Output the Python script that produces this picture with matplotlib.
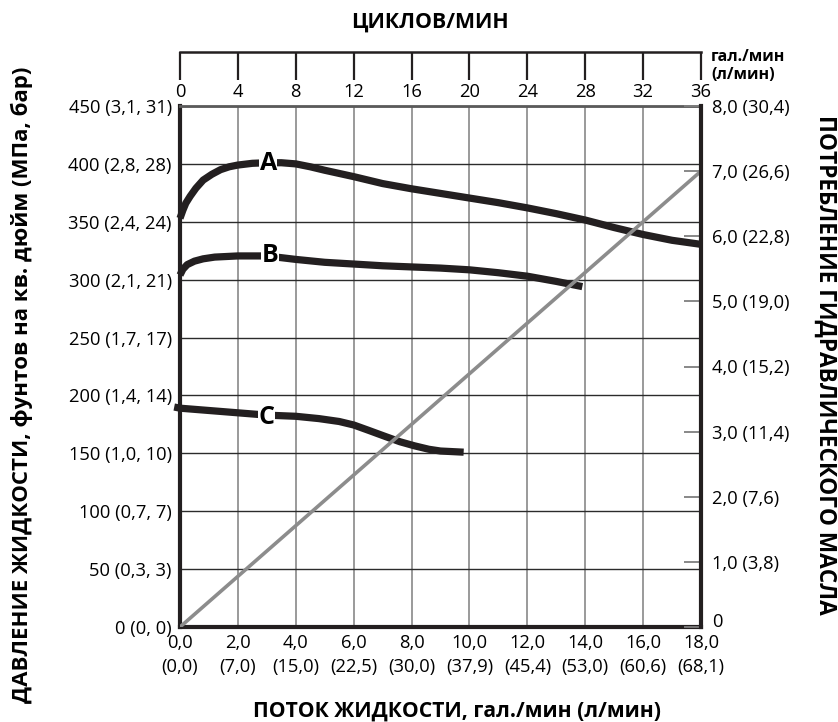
import numpy as np
import matplotlib
matplotlib.use("Agg")
import matplotlib.pyplot as plt
from matplotlib.transforms import ScaledTranslation

plt.rcParams['font.family'] = ['Open Sans', 'DejaVu Sans']

# fluid flow, gal/min, and pressure, psi
flow_a = [0, 0.1, 0.2, 0.35, 0.55, 0.8, 1.1, 1.4, 1.7, 2.0, 2.5, 3.0, 3.5, 4.0, 4.5, 5.0, 6.0, 7.0,
          8.0, 9.0, 10.0, 11.0, 12.0, 13.0, 14.0, 15.0, 16.0, 17.0, 18.0]
psi_a = [353, 360, 366, 372, 379, 386, 391, 395, 397.5, 399, 400.5, 401, 401, 400, 397.5, 394.5, 389, 383,
         378.5, 374.5, 370.5, 366.5, 362, 357, 351.5, 345, 339, 334, 330.5]

flow_b = [0, 0.1, 0.25, 0.5, 0.8, 1.2, 2.0, 3.0, 3.5, 4.0, 5.0, 6.0, 7.0, 8.0, 9.0, 10.0, 11.0, 12.0,
          13.0, 13.9]
psi_b = [304, 309, 313, 316, 318, 319.5, 320.5, 320.5, 319, 317.5, 315, 313.5, 312, 311, 310, 308.5, 306, 303,
         298.5, 294]

flow_c = [-0.2, 0, 1.0, 2.0, 3.0, 4.0, 4.8, 5.5, 6.0, 6.5, 7.1, 7.6, 8.1, 8.6, 9.0, 9.8]
psi_c = [190, 189, 187, 185, 183, 182, 180, 177.5, 174.5, 170, 164.5, 160, 156.5, 153.5, 152, 151]

# hydraulic oil consumption, gal/min
flow_oil = [0, 18]
oil = [0, 7.0]

curve_labels = ["A", "B", "C"]
label_pos = [(3.05, 400), (3.1, 321), (3.0, 181)]

flow_ticks = [0, 2, 4, 6, 8, 10, 12, 14, 16, 18]
flow_labels = ["0,0\n(0,0)", "2,0\n(7,0)", "4,0\n(15,0)", "6,0\n(22,5)", "8,0\n(30,0)",
               "10,0\n(37,9)", "12,0\n(45,4)", "14,0\n(53,0)", "16,0\n(60,6)", "18,0\n(68,1)"]
psi_ticks = [0, 50, 100, 150, 200, 250, 300, 350, 400, 450]
psi_labels = ["0 (0, 0)", "50 (0,3, 3)", "100 (0,7, 7)", "150 (1,0, 10)", "200 (1,4, 14)",
              "250 (1,7, 17)", "300 (2,1, 21)", "350 (2,4, 24)", "400 (2,8, 28)", "450 (3,1, 31)"]
oil_ticks = [0, 1, 2, 3, 4, 5, 6, 7, 8]
oil_labels = ["0", "1,0 (3,8)", "2,0 (7,6)", "3,0 (11,4)", "4,0 (15,2)", "5,0 (19,0)",
              "6,0 (22,8)", "7,0 (26,6)", "8,0 (30,4)"]
cycle_ticks = [0, 4, 8, 12, 16, 20, 24, 28, 32, 36]

W, H = 838, 722
dark = "#231f20"
fs = 13.2

fig = plt.figure(figsize=(W / 100, H / 100), dpi=100)
x0, x1, y0, y1 = 180, 701, 106, 627
ax = fig.add_axes([x0 / W, 1 - y1 / H, (x1 - x0) / W, (y1 - y0) / H])

ax.set_xlim(0, 18)
ax.set_ylim(0, 450)
ax.set_axisbelow(True)
ax.set_xticks(flow_ticks)
ax.set_xticklabels(flow_labels, linespacing=1.45)
ax.set_yticks(psi_ticks)
ax.set_yticklabels(psi_labels)
ax.tick_params(axis="both", length=0, labelsize=fs, colors="black")
ax.tick_params(axis="x", pad=5)
ax.tick_params(axis="y", pad=6)
ax.xaxis.grid(True, color="#7f7f7f", linewidth=1.1)
ax.yaxis.grid(True, color="#2b2b2b", linewidth=1.0)
for s in ["left", "bottom"]:
    ax.spines[s].set_linewidth(3)
    ax.spines[s].set_color(dark)
ax.spines["top"].set_linewidth(2)
ax.spines["top"].set_color("#5a5a5a")
ax.spines["right"].set_visible(False)

for fx, py in [(flow_a, psi_a), (flow_b, psi_b), (flow_c, psi_c)]:
    ax.plot(fx, py, color=dark, linewidth=5.2, solid_capstyle="butt", solid_joinstyle="round",
            clip_on=False, zorder=3)
for lab, (lx, ly) in zip(curve_labels, label_pos):
    ax.text(lx, ly, lab, fontsize=18, fontweight="bold", ha="center", va="center", zorder=4,
            bbox=dict(facecolor="white", edgecolor="none", pad=0.3))

ax2 = ax.twinx()
ax2.set_ylim(0, 8)
ax2.set_yticks(oil_ticks)
ax2.set_yticklabels(oil_labels)
ax2.tick_params(axis="y", direction="in", length=12, width=1.3, color="#7f7f7f",
                labelsize=fs, pad=8)
ax2.plot(flow_oil, oil, color="#8c8c8c", linewidth=2.6, solid_capstyle="butt", zorder=2)
for s in ["left", "bottom", "top"]:
    ax2.spines[s].set_visible(False)
ax2.spines["right"].set_linewidth(3)
ax2.spines["right"].set_color(dark)
# the "0" on the right sits a little higher than its tick
zero_lbl = ax2.get_yticklabels()[0]
zero_lbl.set_transform(zero_lbl.get_transform() + ScaledTranslation(0, 5 / 72, fig.dpi_scale_trans))

# cycles per minute scale above the plot
ax_top = fig.add_axes([x0 / W, 1 - 52 / H, (x1 - x0) / W, 0.0001])
ax_top.set_xlim(0, 36)
ax_top.set_xticks(cycle_ticks)
ax_top.set_yticks([])
ax_top.patch.set_visible(False)
for s in ["left", "right", "top"]:
    ax_top.spines[s].set_visible(False)
ax_top.spines["bottom"].set_linewidth(1.8)
ax_top.spines["bottom"].set_color(dark)
ax_top.tick_params(axis="x", direction="out", length=20, width=1.6, color=dark,
                   labelsize=fs, pad=2)

fig.text(430 / W, 1 - 22 / H, "ЦИКЛОВ/МИН", fontsize=15.3, fontweight="bold",
         ha="center", va="center")
fig.text(711 / W, 1 - 66 / H, "гал./мин\n(л/мин)", fontsize=11.5, fontweight="bold",
         ha="left", va="center", linespacing=1.1)
fig.text(457 / W, 1 - 711 / H, "ПОТОК ЖИДКОСТИ, гал./мин (л/мин)", fontsize=15.2,
         fontweight="bold", ha="center", va="center")
fig.text(22 / W, 1 - 385 / H, "ДАВЛЕНИЕ ЖИДКОСТИ, фунтов на кв. дюйм (МПа, бар)",
         fontsize=16, fontweight="bold", ha="center", va="center", rotation=90)
fig.text(825 / W, 1 - 365 / H, "ПОТРЕБЛЕНИЕ ГИДРАВЛИЧЕСКОГО МАСЛА", fontsize=16.3,
         fontweight="bold", ha="center", va="center", rotation=270)

fig.savefig("out.png", dpi=100, facecolor="white")
